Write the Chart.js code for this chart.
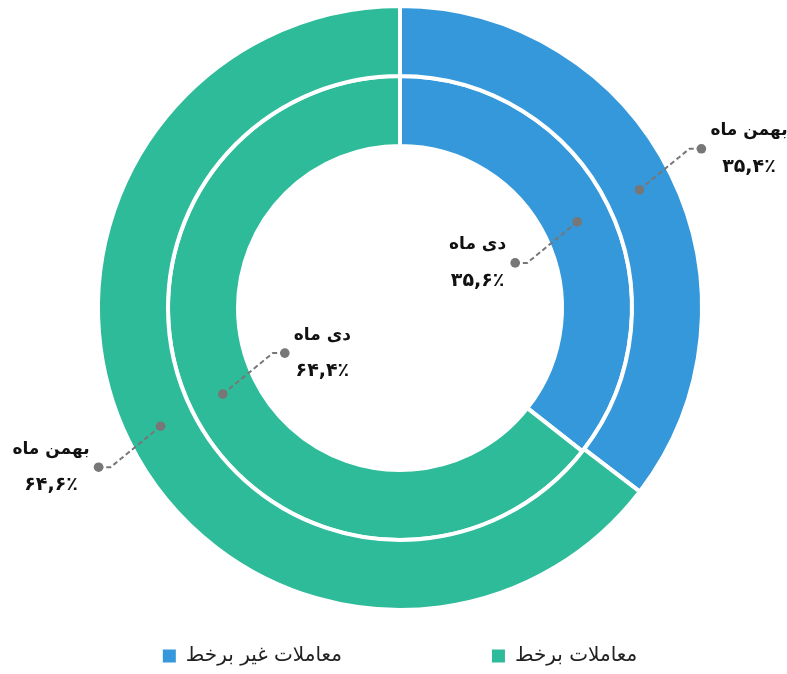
<!DOCTYPE html>
<html><head><meta charset="utf-8">
<script src="https://cdn.jsdelivr.net/npm/chart.js@4.4.1/dist/chart.umd.min.js"></script>
<style>html,body{margin:0;padding:0;background:#fff;}#wrap{width:787px;height:674px;position:relative;}</style>
</head><body><div id="wrap"><canvas id="c"></canvas></div>
<script>
// Data
const categories = ['معاملات غیر برخط', 'معاملات برخط'];
const periods = ['بهمن ماه', 'دی ماه'];
const bahmanValues = [35.4, 64.6];
const deyValues = [35.6, 64.4];
const sliceColors = ['#3598DB', '#2EBB9A'];

const faDigits = '۰۱۲۳۴۵۶۷۸۹';
function toFa(v) {
  return v.toFixed(1).replace(/\d/g, d => faDigits[+d]).replace('.', ',') + '٪';
}

const labelPlugin = {
  id: 'leaderLabels',
  afterDatasetsDraw(chart) {
    const ctx = chart.ctx;
    ctx.save();
    const titleFont = 'bold 17px "DejaVu Sans"';
    const numFont = 'bold 19px "DejaVu Sans"';
    chart.data.datasets.forEach((ds, d) => {
      const meta = chart.getDatasetMeta(d);
      meta.data.forEach((arc, j) => {
        const p = arc.getProps(['x','y','startAngle','endAngle','innerRadius','outerRadius'], true);
        const mid = (p.startAngle + p.endAngle) / 2;
        const r = (p.innerRadius + p.outerRadius) / 2;
        const ax = p.x + Math.cos(mid) * r, ay = p.y + Math.sin(mid) * r;
        const out = d === 0 ? 1 : -1;
        const sx = Math.sign(Math.cos(mid)) * out, sy = Math.sign(Math.sin(mid)) * out;
        const ex = ax + sx * 50, ey = ay + sy * 41;
        const tx = ex + sx * 12, ty = ey;
        ctx.strokeStyle = '#777';
        ctx.lineWidth = 2;
        ctx.setLineDash([5, 3]);
        ctx.beginPath();
        ctx.moveTo(ax, ay); ctx.lineTo(ex, ey); ctx.lineTo(tx, ty);
        ctx.stroke();
        ctx.setLineDash([]);
        ctx.fillStyle = '#777';
        [[ax, ay], [tx, ty]].forEach(([px, py]) => {
          ctx.beginPath(); ctx.arc(px, py, 4.8, 0, Math.PI * 2); ctx.fill();
        });
        const numText = toFa(ds.data[j]);
        ctx.font = titleFont; ctx.direction = 'rtl';
        const w1 = ctx.measureText(ds.label).width;
        ctx.font = numFont; ctx.direction = 'ltr';
        const w2 = ctx.measureText(numText).width;
        const blockW = Math.max(w1, w2);
        const cx = tx + sx * (9 + blockW / 2);
        ctx.fillStyle = '#111';
        ctx.textBaseline = 'middle';
        ctx.textAlign = 'center';
        ctx.direction = 'rtl';
        ctx.font = titleFont;
        ctx.fillText(ds.label, cx, ty - 18);
        ctx.direction = 'ltr';
        ctx.font = numFont;
        ctx.fillText(numText, cx, ty + 18);
      });
    });
    ctx.restore();
  }
};

const legendPlugin = {
  id: 'bottomLegend',
  afterDraw(chart) {
    const ctx = chart.ctx;
    ctx.save();
    ctx.font = '20px "DejaVu Sans"';
    ctx.direction = 'rtl';
    ctx.textBaseline = 'middle';
    ctx.textAlign = 'left';
    const box = 13, gapBox = 10, gapItem = 150;
    const widths = categories.map(c => box + gapBox + ctx.measureText(c).width);
    const total = widths.reduce((a, b) => a + b, 0) + gapItem * (categories.length - 1);
    let x = 400 - total / 2;
    const y = 656;
    categories.forEach((c, i) => {
      ctx.fillStyle = sliceColors[i];
      ctx.fillRect(x, y - box / 2, box, box);
      ctx.fillStyle = '#222';
      ctx.fillText(c, x + box + gapBox, y);
      x += widths[i] + gapItem;
    });
    ctx.restore();
  }
};

new Chart(document.getElementById('c'), {
  type: 'doughnut',
  data: {
    labels: categories,
    datasets: [
      { label: periods[0], data: bahmanValues, backgroundColor: sliceColors, borderColor: '#fff', borderWidth: 4 },
      { label: periods[1], data: deyValues, backgroundColor: sliceColors, borderColor: '#fff', borderWidth: 4 }
    ]
  },
  options: {
    responsive: true,
    maintainAspectRatio: false,
    animation: false,
    events: [],
    radius: 302,
    cutout: '53.64%',
    layout: { padding: { left: 13, right: 0, top: 0, bottom: 58 } },
    plugins: { legend: { display: false }, tooltip: { enabled: false } }
  },
  plugins: [labelPlugin, legendPlugin]
});
</script>
</body></html>
